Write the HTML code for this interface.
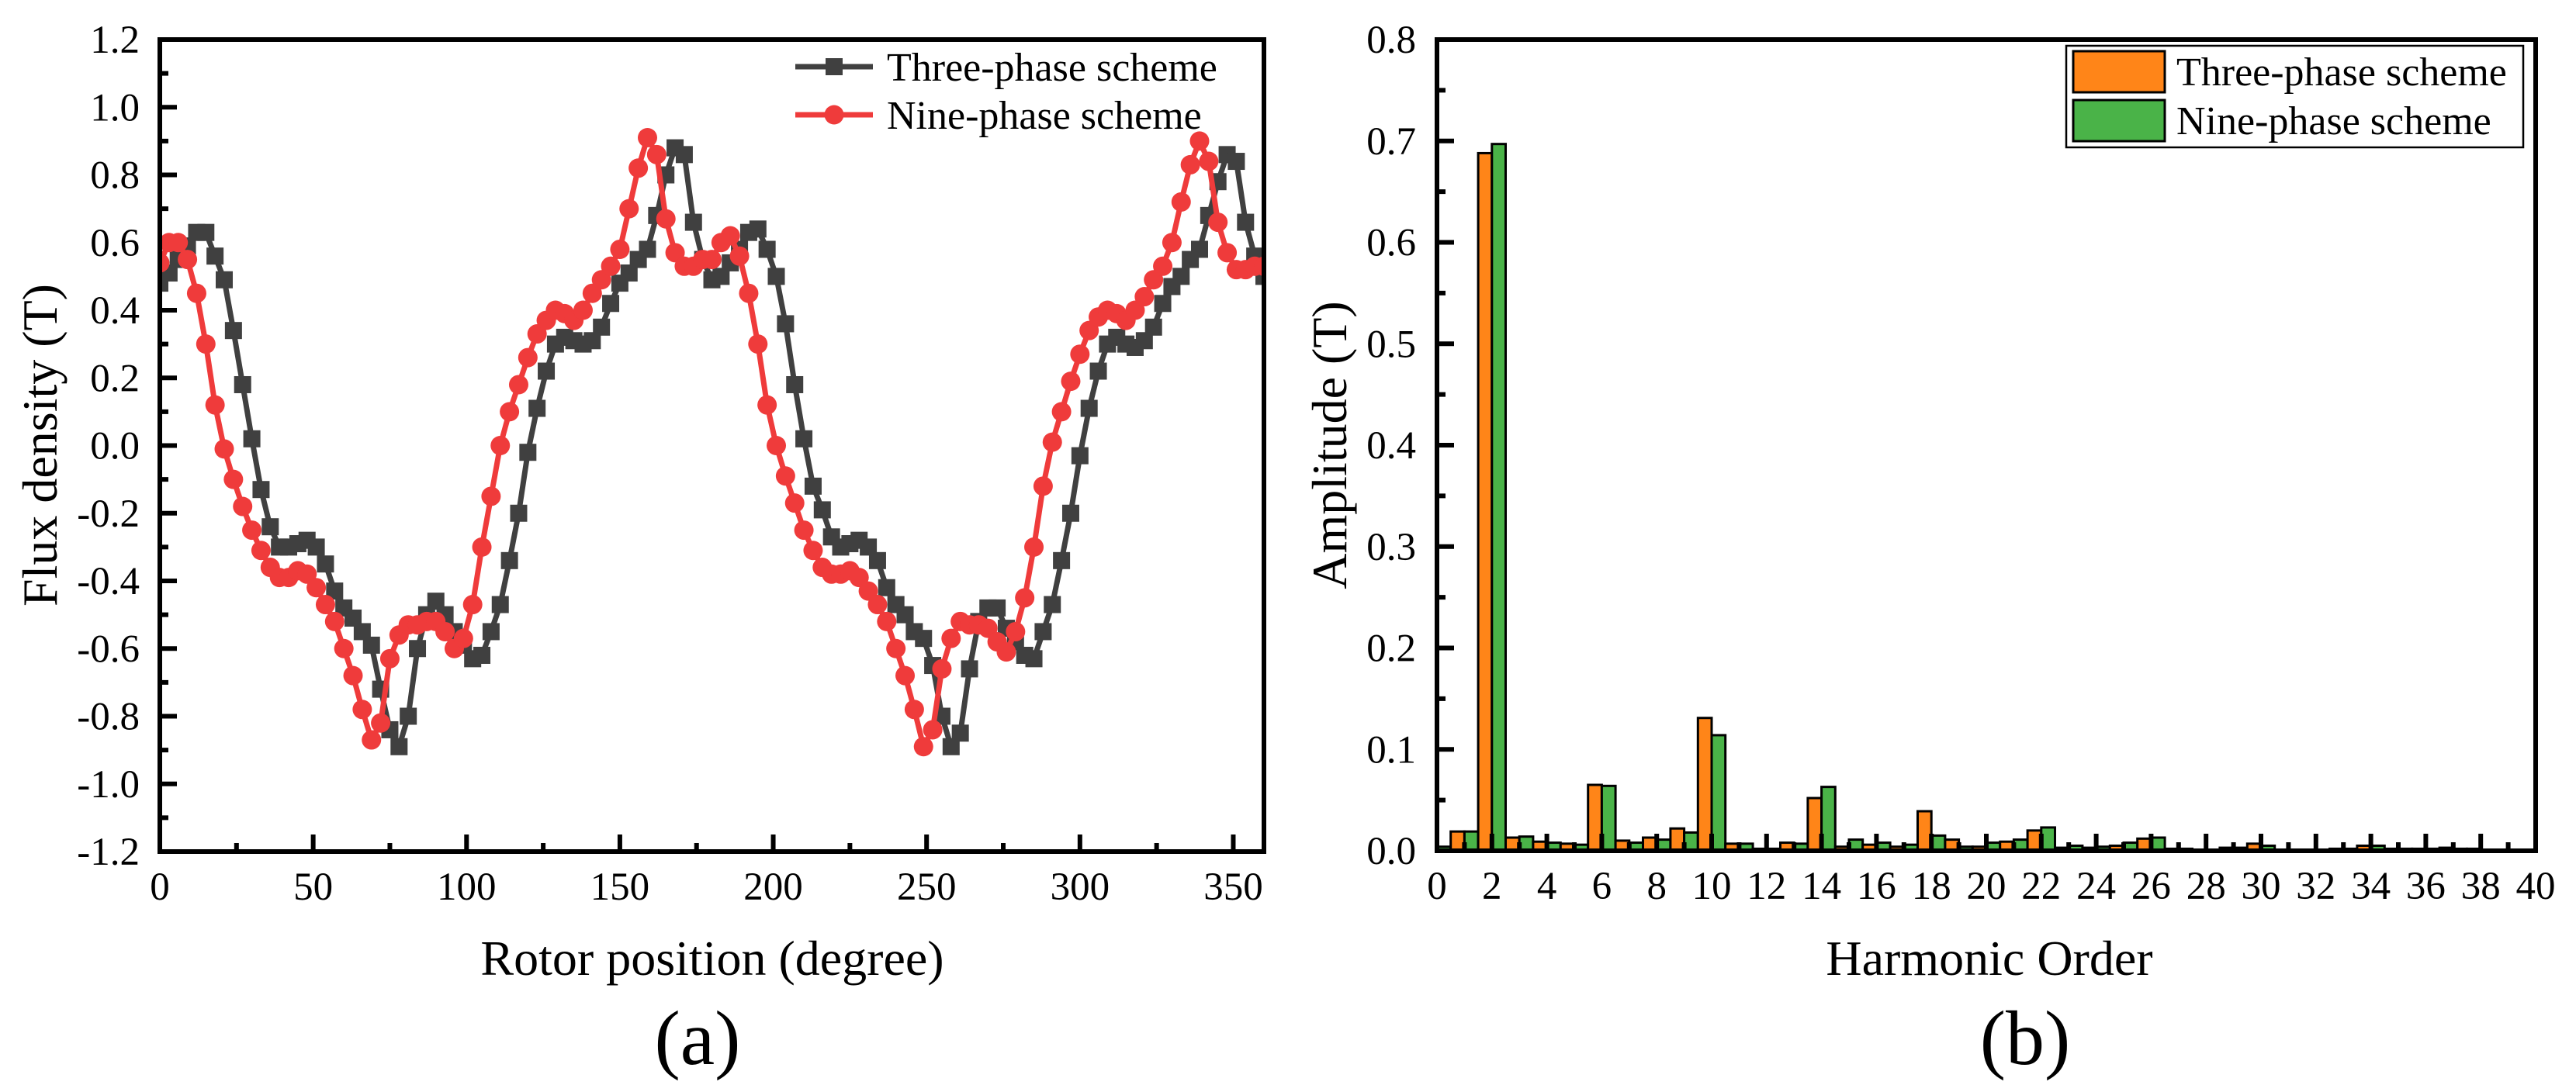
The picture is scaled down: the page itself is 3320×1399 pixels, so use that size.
<!DOCTYPE html>
<html><head><meta charset="utf-8"><style>
html,body{margin:0;padding:0;background:#fff;}
svg{display:block;font-family:"Liberation Serif",serif;}
</style></head><body>
<svg id="fig" width="3320" height="1399" viewBox="0 0 3320 1399" xmlns="http://www.w3.org/2000/svg">
<defs>
<clipPath id="clipA"><rect x="206" y="51" width="1423" height="1047"/></clipPath>
<clipPath id="clipB"><rect x="1852" y="51" width="1416" height="1046"/></clipPath>
</defs>
<g id="chartA"></g>
<g id="chartB"></g>
</svg>
<script>
// ---------- Chart (a) data ----------
const degA = [0,3,6,9,12,15,18,21,24,27,30,33,36,39,42,45,48,51,54,57,60,63,66,69,72,75,78,81,84,87,90,93,96,99,102,105,108,111,114,117,120,123,126,129,132,135,138,141,144,147,150,153,156,159,162,165,168,171,174,177,180,183,186,189,192,195,198,201,204,207,210,213,216,219,222,225,228,231,234,237,240,243,246,249,252,255,258,261,264,267,270,273,276,279,282,285,288,291,294,297,300,303,306,309,312,315,318,321,324,327,330,333,336,339,342,345,348,351,354,357,360];
const threePhase = [0.48,0.51,0.55,0.59,0.63,0.63,0.56,0.49,0.34,0.18,0.02,-0.13,-0.24,-0.30,-0.30,-0.29,-0.28,-0.30,-0.35,-0.43,-0.48,-0.51,-0.55,-0.59,-0.72,-0.84,-0.89,-0.80,-0.60,-0.50,-0.46,-0.50,-0.55,-0.59,-0.63,-0.62,-0.55,-0.47,-0.34,-0.20,-0.02,0.11,0.22,0.30,0.32,0.31,0.30,0.31,0.35,0.42,0.48,0.51,0.55,0.58,0.68,0.80,0.88,0.86,0.66,0.55,0.49,0.50,0.54,0.58,0.63,0.64,0.58,0.50,0.36,0.18,0.02,-0.12,-0.19,-0.27,-0.30,-0.29,-0.28,-0.30,-0.34,-0.42,-0.47,-0.50,-0.55,-0.57,-0.65,-0.80,-0.89,-0.85,-0.66,-0.52,-0.48,-0.48,-0.54,-0.58,-0.62,-0.63,-0.55,-0.47,-0.34,-0.20,-0.03,0.11,0.22,0.30,0.32,0.30,0.29,0.31,0.35,0.42,0.47,0.50,0.55,0.58,0.68,0.78,0.86,0.84,0.66,0.56,0.50];
const ninePhase = [0.54,0.60,0.60,0.55,0.45,0.30,0.12,-0.01,-0.10,-0.18,-0.25,-0.31,-0.36,-0.39,-0.39,-0.37,-0.38,-0.42,-0.47,-0.52,-0.60,-0.68,-0.78,-0.87,-0.82,-0.63,-0.56,-0.53,-0.53,-0.52,-0.52,-0.55,-0.60,-0.57,-0.47,-0.30,-0.15,0.00,0.10,0.18,0.26,0.33,0.37,0.40,0.39,0.37,0.40,0.45,0.49,0.53,0.58,0.70,0.82,0.91,0.86,0.67,0.57,0.53,0.53,0.55,0.55,0.60,0.62,0.56,0.45,0.30,0.12,0.00,-0.09,-0.17,-0.25,-0.31,-0.36,-0.38,-0.38,-0.37,-0.39,-0.43,-0.47,-0.52,-0.60,-0.68,-0.78,-0.89,-0.84,-0.66,-0.57,-0.52,-0.53,-0.53,-0.54,-0.58,-0.61,-0.55,-0.45,-0.30,-0.12,0.01,0.10,0.19,0.27,0.34,0.38,0.40,0.39,0.37,0.40,0.44,0.49,0.53,0.60,0.72,0.83,0.90,0.84,0.66,0.57,0.52,0.52,0.53,0.53];
const xTicksA = [0,50,100,150,200,250,300,350];
const yTicksA = [-1.2,-1.0,-0.8,-0.6,-0.4,-0.2,0.0,0.2,0.4,0.6,0.8,1.0,1.2];
// ---------- Chart (b) data ----------
const harmonics = [0,1,2,3,4,5,6,7,8,9,10,11,12,13,14,15,16,17,18,19,20,21,22,23,24,25,26,27,28,29,30,31,32,33,34,35,36,37,38];
const threeAmp = [0,0.019,0.688,0.013,0.009,0.007,0.065,0.010,0.013,0.022,0.131,0.007,0.002,0.008,0.052,0.004,0.006,0.004,0.039,0.011,0.004,0.009,0.020,0.003,0.003,0.005,0.012,0.002,0.001,0.003,0.007,0.001,0.001,0.002,0.005,0.002,0.002,0.003,0.002];
const nineAmp = [0.004,0.019,0.697,0.014,0.008,0.006,0.064,0.008,0.011,0.018,0.114,0.007,0.002,0.007,0.063,0.011,0.008,0.006,0.015,0.004,0.008,0.011,0.023,0.005,0.004,0.008,0.013,0.002,0.001,0.003,0.005,0.001,0.001,0.002,0.005,0.002,0.002,0.002,0.001];
const xTicksB = [0,2,4,6,8,10,12,14,16,18,20,22,24,26,28,30,32,34,36,38,40];
const yTicksB = [0.0,0.1,0.2,0.3,0.4,0.5,0.6,0.7,0.8];

const NS = "http://www.w3.org/2000/svg";
const TICKFS = 51, TITLEFS = 64, PANELFS = 100, LEGFS = 52;
function mk(parent, tag, attrs, text){
  const e = document.createElementNS(NS, tag);
  for (const k in attrs) e.setAttribute(k, attrs[k]);
  if (text !== undefined) e.textContent = text;
  parent.appendChild(e);
  return e;
}

// ===== Chart A =====
(function(){
  const g = document.getElementById('chartA');
  const L=206, R=1629, T=51, B=1098;
  const xs = v => L + (v-0)/(360-0)*(R-L);
  const ys = v => B - (v+1.2)/2.4*(B-T);
  const tg = mk(g,'g',{});
  
  
  for (let v=0; v<=360; v+=25){
    const maj = v%50===0;
    mk(tg,'line',{x1:xs(v),x2:xs(v),y1:B,y2:B-(maj?22:11),stroke:'#000','stroke-width':6});
  }
  xTicksA.forEach(v=>{
    const t = mk(tg,'text',{x:xs(v),y:B+62,'font-size':TICKFS,'text-anchor':'middle'},String(v));
    
    
  });
  const yg = mk(g,'g',{});
  
  
  for (let i=0;i<=24;i++){
    const v=-1.2+i*0.1; const maj=i%2===0;
    mk(yg,'line',{x1:L,x2:L+(maj?22:11),y1:ys(v),y2:ys(v),stroke:'#000','stroke-width':6});
  }
  yTicksA.forEach(v=>{
    const t = mk(yg,'text',{x:180,y:ys(v)+17,'font-size':TICKFS,'text-anchor':'end'},v.toFixed(1));
    
    
  });
  const sg = mk(g,'g',{'clip-path':'url(#clipA)'});
  function series(vals, color, marker, name){
    const s = mk(sg,'g',{});
    
    
    mk(s,'polyline',{points:degA.map((d,i)=>xs(d)+','+ys(vals[i])).join(' '),fill:'none',stroke:color,'stroke-width':7,'stroke-linejoin':'round'});
    degA.forEach((d,i)=>{
      let m;
      if (marker==='sq') m = mk(s,'rect',{x:xs(d)-11,y:ys(vals[i])-11,width:22,height:22,fill:color});
      else m = mk(s,'circle',{cx:xs(d),cy:ys(vals[i]),r:12.5,fill:color});
      
      
    });
  }
  series(threePhase,'#404040','sq','three-phase-series');
  series(ninePhase,'#ef3b3b','ci','nine-phase-series');
  const fr = mk(g,'rect',{x:L,y:T,width:R-L,height:B-T,fill:'none',stroke:'#000','stroke-width':6});
  
  
  const lg = mk(g,'g',{});
  
  
  const e1 = mk(lg,'g',{});
  
  
  mk(e1,'line',{x1:1025,x2:1125,y1:86,y2:86,stroke:'#404040','stroke-width':7});
  mk(e1,'rect',{x:1064,y:75,width:22,height:22,fill:'#404040'});
  mk(e1,'text',{x:1143,y:104,'font-size':LEGFS},'Three-phase scheme');
  const e2 = mk(lg,'g',{});
  
  
  mk(e2,'line',{x1:1025,x2:1125,y1:148,y2:148,stroke:'#ef3b3b','stroke-width':7});
  mk(e2,'circle',{cx:1075,cy:148,r:12.5,fill:'#ef3b3b'});
  mk(e2,'text',{x:1143,y:166,'font-size':LEGFS},'Nine-phase scheme');
  const yt = mk(g,'text',{x:0,y:0,'font-size':TITLEFS,'text-anchor':'middle',transform:'translate(73,574) rotate(-90)'},'Flux density (T)');
  
  
  const xt = mk(g,'text',{x:918,y:1257,'font-size':TITLEFS,'text-anchor':'middle'},'Rotor position (degree)');
  
  
  const pl = mk(g,'text',{x:899,y:1372,'font-size':PANELFS,'text-anchor':'middle'},'(a)');
  
  
})();

// ===== Chart B =====
(function(){
  const g = document.getElementById('chartB');
  const L=1852, R=3268, T=51, B=1097;
  const xs = v => L + v/40*(R-L);
  const ys = v => B - v/0.8*(B-T);
  const bg = mk(g,'g',{'clip-path':'url(#clipB)'});
  
  
  harmonics.forEach((h,i)=>{
    const w = xs(0.5)-xs(0);
    const b1 = mk(bg,'rect',{x:xs(h-0.5),y:ys(threeAmp[i]),width:w,height:ys(0)-ys(threeAmp[i]),fill:'#ff8518',stroke:'#000','stroke-width':3});
    
    
    const b2 = mk(bg,'rect',{x:xs(h),y:ys(nineAmp[i]),width:w,height:ys(0)-ys(nineAmp[i]),fill:'#4ab348',stroke:'#000','stroke-width':3});
    
    
  });
  const tg = mk(g,'g',{});
  
  
  for (let v=0; v<=40; v+=1){
    const maj = v%2===0;
    mk(tg,'line',{x1:xs(v),x2:xs(v),y1:B,y2:B-(maj?22:11),stroke:'#000','stroke-width':6});
  }
  xTicksB.forEach(v=>{
    const t = mk(tg,'text',{x:xs(v),y:B+62,'font-size':TICKFS,'text-anchor':'middle'},String(v));
    
    
  });
  const yg = mk(g,'g',{});
  
  
  for (let i=0;i<=16;i++){
    const v=i*0.05; const maj=i%2===0;
    mk(yg,'line',{x1:L,x2:L+(maj?22:11),y1:ys(v),y2:ys(v),stroke:'#000','stroke-width':6});
  }
  yTicksB.forEach(v=>{
    const t = mk(yg,'text',{x:1825,y:ys(v)+17,'font-size':TICKFS,'text-anchor':'end'},v.toFixed(1));
    
    
  });
  const fr = mk(g,'rect',{x:L,y:T,width:R-L,height:B-T,fill:'none',stroke:'#000','stroke-width':6});
  
  
  const lg = mk(g,'g',{});
  
  
  mk(lg,'rect',{x:2663,y:59,width:589,height:131,fill:'#fff',stroke:'#000','stroke-width':2.5});
  const e1 = mk(lg,'g',{});
  
  
  mk(e1,'rect',{x:2672,y:66,width:118,height:53,fill:'#ff8518',stroke:'#000','stroke-width':3});
  mk(e1,'text',{x:2805,y:110,'font-size':LEGFS},'Three-phase scheme');
  const e2 = mk(lg,'g',{});
  
  
  mk(e2,'rect',{x:2672,y:129,width:118,height:53,fill:'#4ab348',stroke:'#000','stroke-width':3});
  mk(e2,'text',{x:2805,y:173,'font-size':LEGFS},'Nine-phase scheme');
  const yt = mk(g,'text',{x:0,y:0,'font-size':TITLEFS,'text-anchor':'middle',transform:'translate(1735,574) rotate(-90)'},'Amplitude (T)');
  
  
  const xt = mk(g,'text',{x:2564,y:1257,'font-size':TITLEFS,'text-anchor':'middle'},'Harmonic Order');
  
  
  const pl = mk(g,'text',{x:2610,y:1372,'font-size':PANELFS,'text-anchor':'middle'},'(b)');
  
  
})();
</script>
</body></html>
